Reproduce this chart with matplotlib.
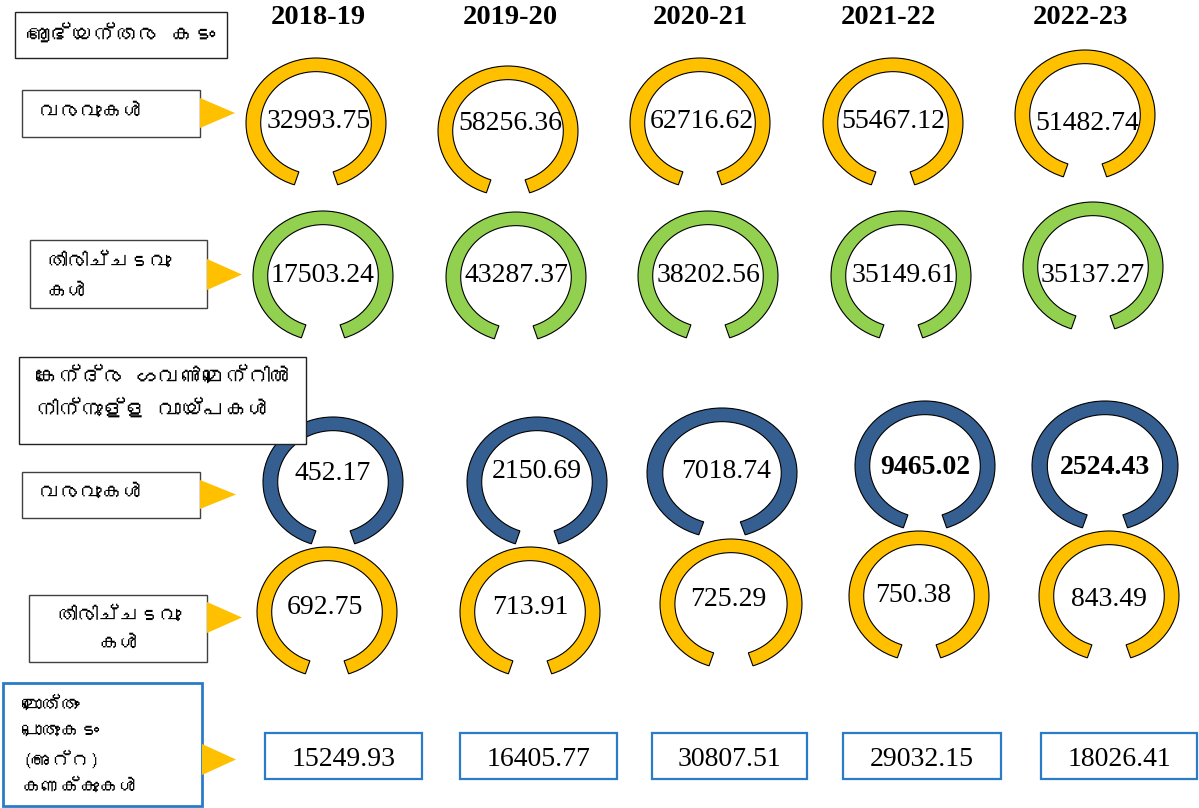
import matplotlib
matplotlib.use("Agg")
import matplotlib.pyplot as plt
from matplotlib.patches import Wedge, Rectangle, Polygon
from matplotlib.transforms import Affine2D
from matplotlib import font_manager
from matplotlib.ft2font import FT2Font

# ---------------- data ----------------
years = ["2018-19", "2019-20", "2020-21", "2021-22", "2022-23"]
internal_receipts = [32993.75, 58256.36, 62716.62, 55467.12, 51482.74]
internal_repayments = [17503.24, 43287.37, 38202.56, 35149.61, 35137.27]
central_receipts = [452.17, 2150.69, 7018.74, 9465.02, 2524.43]
central_repayments = [692.75, 713.91, 725.29, 750.38, 843.49]
net_public_debt = [15249.93, 16405.77, 30807.51, 29032.15, 18026.41]

title_internal = "ആഭ്യന്തര കടം"
title_central = "കേന്ദ്ര ഗവൺമെന്റിൽ\nനിന്നുള്ള വായ്പകൾ"
label_receipts = "വരവുകൾ"
label_repayments = "തിരിച്ചടവു\nകൾ"
label_net = "മൊത്തം\nപൊതുകടം\n(അറ്റ)\nകണക്കുകൾ"

# ---------------- fonts ----------------
def find_family(ch):
    for f in font_manager.fontManager.ttflist:
        try:
            if ord(ch) in FT2Font(f.fname).get_charmap():
                return f.name
        except Exception:
            pass
    return None

ml = find_family("മ")
ml_fonts = ([ml] if ml else []) + ["Noto Sans", "DejaVu Sans"]
serif = ["Liberation Serif", "DejaVu Serif"]

# ---------------- colours ----------------
YELLOW = "#FFC000"
GREEN = "#92D050"
BLUE = "#365F91"
BOXBLUE = "#2A7BC8"

# ---------------- figure ----------------
W, H = 1199, 808
fig = plt.figure(figsize=(W / 100, H / 100), dpi=100)
ax = fig.add_axes([0, 0, 1, 1])
ax.set_xlim(0, W)
ax.set_ylim(H, 0)
ax.axis("off")

# layout (pixel positions)
ring_rows = [
    # (values, colour, centre x, centre y, rx, text x, text y, bold-from-index)
    (internal_receipts, YELLOW, [316, 508, 700, 893, 1085], [123, 131, 123, 123, 115],
     [70, 70, 70, 70, 70], [319, 510, 702, 893, 1087], [122, 123, 122, 122, 123], 99),
    (internal_repayments, GREEN, [323, 516, 708, 901, 1093], [276, 277, 276, 276, 267],
     [70, 70, 70, 70, 70], [323, 516, 708, 904, 1093], [275, 275, 275, 275, 275], 99),
    (central_receipts, BLUE, [333, 537, 722, 925, 1105], [482, 482, 473, 466, 466],
     [70, 70, 75, 70, 73], [333, 537, 726, 925, 1105], [473, 471, 471, 468, 468], 3),
    (central_repayments, YELLOW, [327, 530, 731, 919, 1109], [612, 612, 604, 596, 596],
     [70, 70, 71, 70, 70], [325, 530, 728, 913, 1109], [608, 608, 599, 595, 599], 99),
]
RY = 65
GAP = 18  # half-gap in degrees

for vals, col, cxs, cys, rxs, txs, tys, bold_from in ring_rows:
    for i, v in enumerate(vals):
        w = Wedge((0, 0), 1.0, -90 + GAP, 270 - GAP, width=0.21,
                  facecolor=col, edgecolor="black", linewidth=0.8)
        w.set_transform(Affine2D().scale(rxs[i], -RY).translate(cxs[i], cys[i]) + ax.transData)
        ax.add_patch(w)
        weight = "bold" if i >= bold_from else "normal"
        ax.text(txs[i], tys[i], f"{v:.2f}", ha="center", va="center",
                fontsize=20, family=serif, fontweight=weight, color="black")

# year headers
for x, y in zip([318, 510, 700, 888, 1080], years):
    ax.text(x, 18, y, ha="center", va="center", fontsize=20.5,
            family=serif, fontweight="bold")

# net public debt boxes
box_x = [(265, 422), (460, 617), (652, 807), (843, 1001), (1041, 1197)]
for (x0, x1), v in zip(box_x, net_public_debt):
    ax.add_patch(Rectangle((x0, 733), x1 - x0, 46, facecolor="white",
                           edgecolor=BOXBLUE, linewidth=1.6))
    ax.text((x0 + x1) / 2, 759, f"{v:.2f}", ha="center", va="center",
            fontsize=20, family=serif)

# label boxes
def box(x0, y0, x1, y1, ec="#404040", lw=1.0):
    ax.add_patch(Rectangle((x0, y0), x1 - x0, y1 - y0, facecolor="white",
                           edgecolor=ec, linewidth=lw))

box(15, 12, 227, 58, ec="#222222")
ax.text(121, 34, title_internal, ha="center", va="center", fontsize=16,
        family=ml_fonts, fontweight="bold")

box(22, 90, 200, 137)
ax.text(40, 112, label_receipts, ha="left", va="center", fontsize=15, family=ml_fonts)

box(30, 240, 207, 308)
ax.text(46, 277, label_repayments, ha="left", va="center", fontsize=15,
        family=ml_fonts, linespacing=1.75)

box(19, 357, 306, 444, ec="#222222")
ax.text(36, 393, title_central, ha="left", va="center", fontsize=16,
        family=ml_fonts, fontweight="bold", linespacing=1.7)

box(22, 472, 200, 518)
ax.text(40, 493, label_receipts, ha="left", va="center", fontsize=15, family=ml_fonts)

box(29, 595, 207, 662)
ax.text(119, 630, label_repayments, ha="center", va="center", fontsize=15,
        family=ml_fonts, linespacing=1.7)

box(3, 683, 202, 806, ec=BOXBLUE, lw=2.0)
ax.text(22, 746, label_net, ha="left", va="center", fontsize=14,
        family=ml_fonts, fontweight="bold", linespacing=1.7)

# arrows (triangles)
arrows = [(200, 235, 98, 128), (207, 242, 259, 290), (200, 236, 480, 509),
          (207, 242, 602, 633), (202, 236, 744, 775)]
for x0, x1, y0, y1 in arrows:
    ax.add_patch(Polygon([(x0, y0), (x1, (y0 + y1) / 2), (x0, y1)], closed=True,
                         facecolor=YELLOW, edgecolor="none"))

fig.savefig("out.png", dpi=100)
